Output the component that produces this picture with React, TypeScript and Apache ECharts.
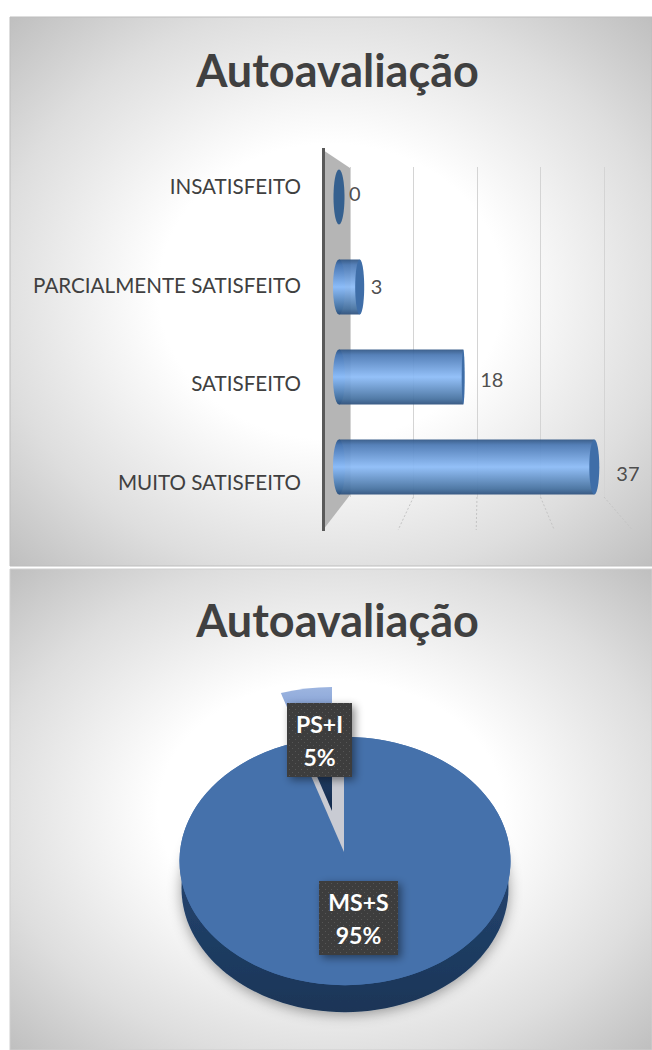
import React, { useEffect, useRef } from "react";
import * as echarts from "echarts";

const chartTitle = "Autoavaliação";
const categories = ["INSATISFEITO", "PARCIALMENTE SATISFEITO", "SATISFEITO", "MUITO SATISFEITO"];
const values = [0, 3, 18, 37];
const labelGaps = [10, 11, 17, 22];
const labelShifts = [-4, -1, 2, 6];
const capWidths = [5.5, 4.5, 1.5, 5];
const axisTicks = [10, 20, 30, 40];
const pieNames = ["MS+S", "PS+I"];
const pieValues = [95, 5];
const pieLabels = ["95%", "5%"];

const FONT = "Lato, Carlito, 'Open Sans', sans-serif";
const TEXT = "#404040";

const panelFill = {
  type: "radial", x: 0.5, y: 0.5, r: 0.707,
  colorStops: [
    { offset: 0, color: "#ffffff" },
    { offset: 0.38, color: "#ffffff" },
    { offset: 0.74, color: "#dedede" },
    { offset: 1, color: "#bfbfbf" },
  ],
};

const barFill = () => ({
  type: "linear", x: 0, y: 0, x2: 0, y2: 1,
  colorStops: [
    { offset: 0, color: "#2f5584" },
    { offset: 0.1, color: "#4a78b4" },
    { offset: 0.5, color: "#8cbcf8" },
    { offset: 0.9, color: "#44709f" },
    { offset: 1, color: "#2c4f7c" },
  ],
});

function dots() {
  const c = document.createElement("canvas");
  c.width = 6;
  c.height = 6;
  const g = c.getContext("2d")!;
  g.fillStyle = "#3d3d3d";
  g.fillRect(0, 0, 6, 6);
  g.fillStyle = "#565656";
  g.fillRect(1, 1, 1, 1);
  g.fillRect(4, 4, 1, 1);
  return { image: c, repeat: "repeat", imageWidth: 6, imageHeight: 6 };
}

export default function App() {
  const ref = useRef<HTMLDivElement>(null);
  useEffect(() => {
    const chart = echarts.init(ref.current!, undefined, { renderer: "svg" });
    const boxFill = dots();
    const total = pieValues.reduce((a, b) => a + b, 0);
    const cx = 345, cy = 861, rx = 165.5, squash = 0.75;
    const top = -Math.PI / 2;

    const oval = (x: number, y: number, r: number, a0: number, a1: number, style: any) => ({
      type: "group", x, y, scaleY: squash,
      children: [{
        type: "sector",
        shape: { cx: 0, cy: 0, r0: 0, r, startAngle: a0, endAngle: a1, clockwise: true },
        style,
      }],
    });
    const labelBox = (x: number, y: number, w: number, h: number, name: string, pct: string) => ([
      {
        type: "rect", shape: { x, y, width: w, height: h },
        style: { fill: boxFill, shadowBlur: 9, shadowOffsetX: 3, shadowOffsetY: 3, shadowColor: "rgba(0,0,0,0.45)" },
      },
      {
        type: "text", x: x + w / 2, y: y + h / 2,
        style: {
          text: name + "\n" + pct, fill: "#ffffff", font: `bold 23px ${FONT}`,
          align: "center", verticalAlign: "middle", lineHeight: 33,
        },
      },
    ]);

    chart.setOption({
      animation: false,
      title: [
        { text: chartTitle, left: 332.5, top: 42, textAlign: "center", textStyle: { color: TEXT, fontFamily: FONT, fontWeight: "bold", fontSize: 45 } },
        { text: chartTitle, left: 332.5, top: 592, textAlign: "center", textStyle: { color: TEXT, fontFamily: FONT, fontWeight: "bold", fontSize: 45 } },
      ],
      graphic: [
        { type: "rect", z: -10, shape: { x: 10, y: 17, width: 642, height: 549 }, style: { fill: panelFill, stroke: "#bdbdbd", lineWidth: 1 } },
        { type: "rect", z: -10, shape: { x: 10, y: 569, width: 642, height: 481 }, style: { fill: panelFill, stroke: "#cfcfcf", lineWidth: 1 } },
        { type: "polygon", z: 1, shape: { points: [[323, 150], [350, 168], [350, 495], [323, 530]] }, style: { fill: "#b5b5b5" } },
        { type: "line", z: 1, shape: { x1: 323.5, y1: 148, x2: 323.5, y2: 531 }, style: { stroke: "#595959", lineWidth: 3 } },
      ],
      grid: [
        { left: 339, top: 152, width: 276, height: 360 },
        { left: 350, top: 167, width: 254, height: 330 },
        { left: 301, top: 136.7, width: 1, height: 394.7 },
      ],
      xAxis: [
        { gridIndex: 0, type: "value", min: 0, max: 40, show: false },
        {
          gridIndex: 1, type: "value", min: 0, max: 40, interval: 10,
          axisLine: { show: false }, axisTick: { show: false }, axisLabel: { show: false },
          splitLine: { show: true, lineStyle: { color: "#d4d4d4", width: 1 } },
        },
        { gridIndex: 2, type: "value", show: false },
      ],
      yAxis: [
        { gridIndex: 0, type: "category", inverse: true, data: categories, show: false },
        { gridIndex: 1, type: "value", min: 0, max: 1, show: false },
        {
          gridIndex: 2, type: "category", inverse: true, data: categories,
          axisLine: { show: false }, axisTick: { show: false },
          axisLabel: { margin: 0, color: TEXT, fontFamily: FONT, fontSize: 20.6 },
        },
      ],
      series: [
        {
          type: "custom", xAxisIndex: 1, yAxisIndex: 1, z: 1, silent: true,
          data: axisTicks.map((t) => [t, 0]),
          renderItem: (_: any, api: any) => {
            const p = api.coord([api.value(0), 0]);
            return {
              type: "line",
              shape: { x1: p[0], y1: p[1], x2: 320 + (p[0] - 350) * 1.23, y2: p[1] + 33 },
              style: { stroke: "#c4c4c4", lineWidth: 1, lineDash: [2, 2] },
            };
          },
        },
        {
          type: "bar", xAxisIndex: 0, yAxisIndex: 0, z: 3, barWidth: 55, silent: true,
          itemStyle: { color: barFill(), opacity: 0.93 },
          data: values.map((v, i) => ({
            value: v,
            label: { show: true, position: "right", distance: labelGaps[i], offset: [0, labelShifts[i]] },
          })),
          label: { color: TEXT, fontFamily: FONT, fontSize: 20 },
        },
        {
          type: "custom", xAxisIndex: 0, yAxisIndex: 0, z: 4, silent: true,
          data: values.map((v, i) => [v, i]),
          renderItem: (params: any, api: any) => {
            const base = api.coord([0, api.value(1)]);
            const end = api.coord([api.value(0), api.value(1)]);
            const ry = 27.5;
            const capRx = capWidths[params.dataIndex];
            if (api.value(0) === 0) {
              return { type: "ellipse", shape: { cx: base[0], cy: base[1], rx: capRx, ry }, style: { fill: "#35608f" } };
            }
            return {
              type: "group",
              children: [
                { type: "ellipse", shape: { cx: base[0], cy: base[1], rx: 6, ry }, style: { fill: barFill() } },
                { type: "ellipse", shape: { cx: end[0], cy: end[1], rx: capRx, ry }, style: { fill: "#3f6ea8" } },
              ],
            };
          },
        },
        {
          type: "custom", coordinateSystem: "none", z: 5, silent: true,
          data: pieValues.map((v, i) => [v, i]),
          renderItem: (params: any, api: any) => {
            const share = api.value(0) / total;
            const sweep = share * Math.PI * 2;
            if (params.dataIndex === 0) {
              return {
                type: "group",
                children: [
                  {
                    type: "ellipse", shape: { cx, cy: cy + 27, rx: rx - 2, ry: rx * squash },
                    style: {
                      fill: { type: "linear", x: 0, y: 0, x2: 0, y2: 1, colorStops: [{ offset: 0, color: "#2a4f80" }, { offset: 1, color: "#1a3557" }] },
                      shadowBlur: 14, shadowOffsetY: 2, shadowColor: "rgba(0,0,0,0.4)",
                    },
                  },
                  { type: "ellipse", shape: { cx, cy, rx, ry: rx * squash }, style: { fill: "#4571ab" } },
                  oval(cx, cy, rx, top, top + sweep, { fill: "#4571ab" }),
                ],
              };
            }
            const a1 = top;
            const a0 = top - sweep;
            return {
              type: "group",
              children: [
                oval(344, 852, 145, a0, a1, { fill: "#c9cbd3" }),
                oval(332, 811, rx, a0, a1, {
                  fill: {
                    type: "linear", x: 0, y: 0, x2: 0, y2: 1,
                    colorStops: [
                      { offset: 0, color: "#9db5e0" },
                      { offset: 0.2, color: "#86a2d6" },
                      { offset: 0.55, color: "#2a4a75" },
                      { offset: 1, color: "#11284a" },
                    ],
                  },
                }),
                ...labelBox(319, 881, 79, 74, pieNames[0], pieLabels[0]),
                ...labelBox(287, 703, 65, 74, pieNames[1], pieLabels[1]),
              ],
            };
          },
        },
      ],
    });
    return () => chart.dispose();
  }, []);
  return <div ref={ref} style={{ position: "absolute", left: 0, top: 0, width: 652, height: 1050 }} />;
}
